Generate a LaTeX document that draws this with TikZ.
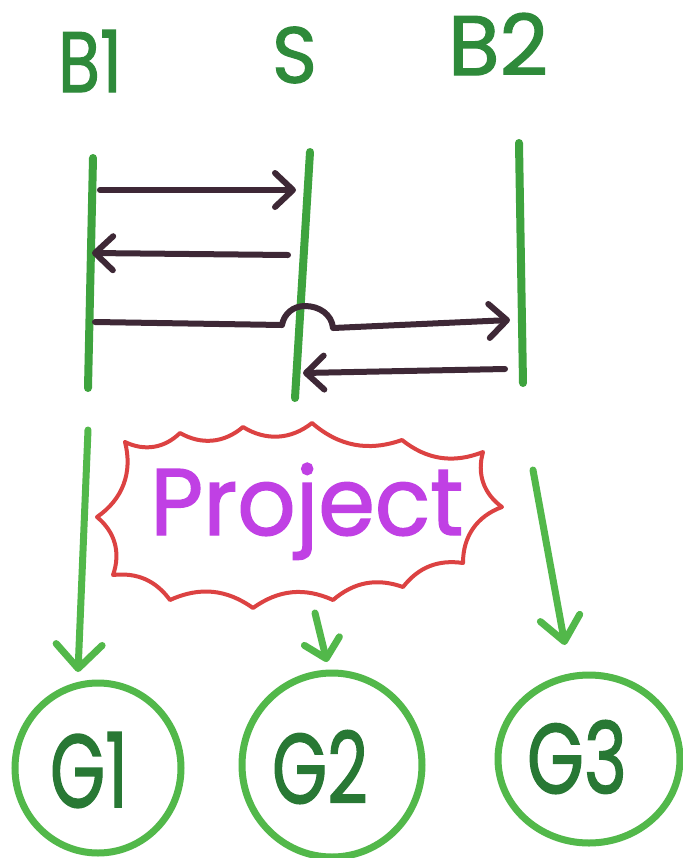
\documentclass[tikz,border=0pt]{standalone}
\usepackage{fontspec}
\setmainfont{Poppins}
\newfontfamily\markerfont{Poppins}[FakeBold=1.5]
\usetikzlibrary{arrows.meta,shapes.geometric}
\definecolor{lblgreen}{RGB}{46,138,58}
\definecolor{linegreen}{RGB}{62,163,62}
\definecolor{circgreen}{RGB}{82,184,74}
\definecolor{msgdark}{RGB}{62,40,54}
\definecolor{cloudred}{RGB}{220,66,66}
\definecolor{projmag}{RGB}{192,64,228}
\definecolor{gtext}{RGB}{40,120,52}
\begin{document}
\begin{tikzpicture}[x=0.5pt,y=-0.5pt,
  lbl/.style={inner sep=0pt, text=lblgreen, font=\markerfont},
  gtxt/.style={inner sep=0pt, text=gtext, font=\markerfont},
  lifeline/.style={draw=linegreen, line width=4pt, line cap=round},
  msg/.style={draw=msgdark, line width=3pt, line cap=round, line join=round,
    -{Straight Barb[length=9pt,width=17pt,round]}},
  flow/.style={draw=circgreen, line width=3.5pt, line cap=round, line join=round},
  gcirc/.style={draw=circgreen, line width=3.5pt, ellipse, inner sep=0pt},
  cloud/.style={draw=cloudred, line width=2pt, line join=round, line cap=round}]
\useasboundingbox (0,0) rectangle (682,858);
\fill[white] (0,0) rectangle (682,858);

% labels
\node[lbl] (lb1) at (90,61) {\resizebox{32pt}{31pt}{B1}};
\node[lbl] (ls) at (294.5,55) {\resizebox{22.5pt}{28pt}{S}};
\node[lbl] (lb2) at (498,44) {\resizebox{50pt}{31pt}{B2}};

% lifelines
\coordinate (b1t) at (93,158); \coordinate (b1b) at (88,388);
\coordinate (st) at (310,152); \coordinate (sb) at (295,398);
\coordinate (b2t) at (519,143); \coordinate (b2b) at (523,383);
\draw[lifeline] (b1t) -- (b1b);
\draw[lifeline] (st) -- (sb);
\draw[lifeline] (b2t) -- (b2b);

% messages
\coordinate (m1a) at (100,190); \coordinate (m1b) at (296,190);
\coordinate (m2a) at (288,255); \coordinate (m2b) at (92,253);
\coordinate (m3a) at (95,322); \coordinate (m3b) at (510,320);
\coordinate (m4a) at (505,369); \coordinate (m4b) at (303,373);
\draw[msg] (m1a) -- (m1b);
\draw[msg] (m2a) -- (m2b);
\draw[msg] (m3a) -- (282,325) to[out=80,in=180] (305,306) to[out=0,in=95] (333,328) -- (m3b);
\draw[msg] (m4a) -- (m4b);

% cloud
\draw[cloud] (125,442) to[bend right=35] (180,433) to[bend right=35] (243,427)
  to[bend right=35] (312,423) to[bend right=30] (402,440) to[bend right=30] (483,452)
  to[bend right=35] (502,507) to[bend right=35] (463,563) to[bend right=30] (403,587)
  to[bend right=30] (333,600) to[bend right=30] (253,608) to[bend right=30] (170,600)
  to[bend right=30] (113,575) to[bend right=35] (97,517) to[bend right=35] (125,442);
\node[anchor=base west, inner sep=0pt, text=projmag, font=\markerfont] (proj) at (150,535)
  {\resizebox{156.5pt}{36pt}{Project}};

% goal circles
\node[gcirc, minimum width=83pt, minimum height=85pt] (g1) at (98,768) {};
\node[gcirc, minimum width=90pt, minimum height=92pt] (g2) at (332,765) {};
\node[gcirc, minimum width=91pt, minimum height=84pt] (g3) at (589,759) {};
\node[gtxt] (g1t) at (89,770) {\resizebox{39pt}{37.5pt}{G1}};
\node[gtxt] (g2t) at (320,767) {\resizebox{48pt}{36.5pt}{G2}};
\node[gtxt] (g3t) at (577,757) {\resizebox{50pt}{36.5pt}{G3}};

% flows
\coordinate (f1a) at (88,430); \coordinate (f1b) at (78,672);
\coordinate (f2a) at (315,613); \coordinate (f2b) at (327,662);
\coordinate (f3a) at (533,470); \coordinate (f3b) at (565,645);
\draw[flow, -{Straight Barb[length=12pt,width=23pt,round]}] (f1a) -- (f1b);
\draw[flow, -{Straight Barb[length=9pt,width=18pt,round]}] (f2a) -- (f2b);
\draw[flow, -{Straight Barb[length=12pt,width=20pt,round]}] (f3a) -- (f3b);
\end{tikzpicture}
\end{document}
